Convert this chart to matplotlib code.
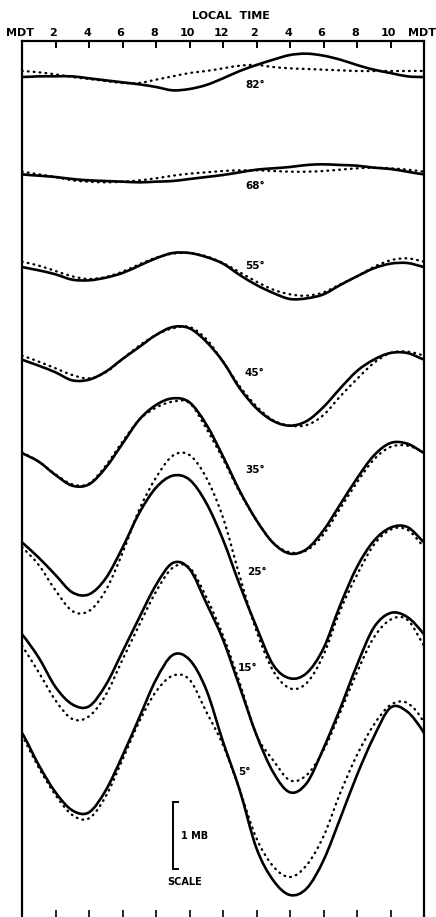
import numpy as np
import matplotlib
matplotlib.use("Agg")
import matplotlib.pyplot as plt
from matplotlib.path import Path
from matplotlib.patches import PathPatch
import matplotlib.transforms as mtransforms

# Local time, midnight to midnight (hours)
hours = list(range(25))
hour_ticks = list(range(0, 25, 2))
tick_labels = ["MDT", "2", "4", "6", "8", "10", "12", "2", "4", "6", "8", "10", "MDT"]

latitudes = [82, 68, 55, 45, 35, 25, 15, 5]

# Diurnal pressure variation (mb), solid and dotted curves for each latitude
solid_82 = [-0.09, -0.08, -0.08, -0.08, -0.11, -0.14, -0.17, -0.20, -0.24, -0.29, -0.27, -0.21, -0.11,
            0.00, 0.09, 0.17, 0.24, 0.26, 0.23, 0.17, 0.09, 0.02, -0.03, -0.08, -0.09]
dotted_82 = [0.00, -0.02, -0.05, -0.09, -0.12, -0.15, -0.18, -0.18, -0.13, -0.08, -0.03, 0.00, 0.04,
             0.08, 0.09, 0.06, 0.04, 0.03, 0.02, 0.01, 0.00, 0.00, 0.00, 0.00, 0.00]

solid_68 = [-0.05, -0.07, -0.09, -0.12, -0.14, -0.15, -0.16, -0.17, -0.16, -0.15, -0.12, -0.09, -0.06,
            -0.02, 0.02, 0.04, 0.06, 0.09, 0.10, 0.09, 0.08, 0.05, 0.03, -0.01, -0.05]
dotted_68 = [-0.01, -0.05, -0.09, -0.14, -0.16, -0.17, -0.16, -0.14, -0.11, -0.07, -0.04, -0.02, 0.00,
             0.01, 0.01, 0.00, -0.01, -0.01, 0.00, 0.02, 0.04, 0.05, 0.04, 0.02, -0.01]

solid_55 = [0.06, 0.01, -0.05, -0.13, -0.14, -0.10, -0.03, 0.08, 0.19, 0.27, 0.27, 0.21, 0.11,
            -0.06, -0.21, -0.33, -0.42, -0.41, -0.35, -0.21, -0.08, 0.04, 0.11, 0.12, 0.06]
dotted_55 = [0.14, 0.08, 0.00, -0.08, -0.12, -0.09, -0.01, 0.10, 0.20, 0.26, 0.27, 0.22, 0.12,
             -0.02, -0.16, -0.28, -0.35, -0.37, -0.32, -0.20, -0.08, 0.06, 0.16, 0.19, 0.14]

solid_45 = [0.17, 0.08, -0.02, -0.14, -0.13, -0.01, 0.18, 0.36, 0.54, 0.66, 0.64, 0.44, 0.14,
            -0.26, -0.56, -0.75, -0.82, -0.75, -0.54, -0.26, 0.00, 0.17, 0.27, 0.27, 0.17]
dotted_45 = [0.23, 0.14, 0.04, -0.06, -0.11, -0.02, 0.18, 0.38, 0.54, 0.64, 0.66, 0.48, 0.14,
             -0.23, -0.53, -0.74, -0.82, -0.81, -0.66, -0.38, -0.12, 0.12, 0.27, 0.29, 0.23]

solid_35 = [0.27, 0.14, -0.06, -0.22, -0.20, 0.05, 0.41, 0.77, 0.99, 1.09, 1.03, 0.70, 0.22,
            -0.30, -0.74, -1.08, -1.24, -1.17, -0.89, -0.50, -0.11, 0.23, 0.42, 0.41, 0.27]
dotted_35 = [0.28, 0.14, -0.05, -0.20, -0.19, 0.08, 0.44, 0.77, 0.95, 1.04, 1.02, 0.64, 0.18,
             -0.32, -0.74, -1.08, -1.22, -1.19, -0.95, -0.56, -0.17, 0.17, 0.36, 0.38, 0.28]

solid_25 = [0.43, 0.20, -0.06, -0.32, -0.35, -0.11, 0.35, 0.87, 1.25, 1.43, 1.37, 1.02, 0.47,
            -0.21, -0.84, -1.41, -1.61, -1.53, -1.16, -0.51, 0.06, 0.45, 0.65, 0.66, 0.43]
dotted_25 = [0.36, 0.09, -0.29, -0.60, -0.60, -0.29, 0.27, 0.92, 1.40, 1.73, 1.74, 1.40, 0.80,
             -0.08, -0.90, -1.50, -1.76, -1.68, -1.26, -0.59, -0.06, 0.39, 0.62, 0.62, 0.36]

solid_15 = [0.55, 0.20, -0.24, -0.50, -0.53, -0.21, 0.29, 0.80, 1.29, 1.62, 1.53, 1.02, 0.47,
            -0.24, -0.96, -1.52, -1.82, -1.68, -1.16, -0.56, 0.09, 0.65, 0.87, 0.81, 0.55]
dotted_15 = [0.38, -0.02, -0.44, -0.72, -0.68, -0.36, 0.17, 0.69, 1.19, 1.55, 1.55, 1.11, 0.53,
             -0.18, -0.96, -1.34, -1.64, -1.56, -1.19, -0.62, -0.02, 0.50, 0.77, 0.77, 0.38]

solid_5 = [0.57, 0.09, -0.32, -0.59, -0.62, -0.29, 0.23, 0.80, 1.37, 1.74, 1.67, 1.22, 0.44,
           -0.29, -1.16, -1.64, -1.86, -1.76, -1.34, -0.71, -0.06, 0.51, 0.95, 0.89, 0.57]
dotted_5 = [0.54, 0.05, -0.36, -0.66, -0.71, -0.38, 0.17, 0.74, 1.19, 1.43, 1.37, 0.89, 0.39,
            -0.29, -1.01, -1.43, -1.59, -1.41, -0.98, -0.33, 0.24, 0.69, 0.99, 1.02, 0.72]

solid_curves = [solid_82, solid_68, solid_55, solid_45, solid_35, solid_25, solid_15, solid_5]
dotted_curves = [dotted_82, dotted_68, dotted_55, dotted_45, dotted_35, dotted_25, dotted_15, dotted_5]

# Layout: vertical stacking of the curves (mb) and label placement (hour, mb)
offsets = [-0.45, -1.95, -3.45, -4.95, -6.45, -7.95, -9.45, -10.95]
label_pos = [(13.9, -0.66), (13.9, -2.18), (13.9, -3.38), (13.9, -4.98),
             (13.9, -6.44), (14.0, -7.97), (13.45, -9.41), (13.25, -10.97)]
y_bottom = -13.14


def smooth_path(x, y):
    """Catmull-Rom curve through hourly points (wrapping over the 24 h cycle)."""
    x = np.asarray(x, float)
    y = np.asarray(y, float)
    n = len(x)
    xe = np.concatenate([[x[-2] - 24], x, [x[1] + 24]])
    ye = np.concatenate([[y[-2]], y, [y[1]]])
    verts = [(x[0], y[0])]
    codes = [Path.MOVETO]
    for i in range(1, n):
        p0 = np.array([xe[i - 1], ye[i - 1]])
        p1 = np.array([xe[i], ye[i]])
        p2 = np.array([xe[i + 1], ye[i + 1]])
        p3 = np.array([xe[i + 2], ye[i + 2]])
        c1 = p1 + (p2 - p0) / 6
        c2 = p2 - (p3 - p1) / 6
        verts += [tuple(c1), tuple(c2), tuple(p2)]
        codes += [Path.CURVE4] * 3
    return Path(verts, codes)


plt.rcParams['font.family'] = ['DejaVu Sans']
fig = plt.figure(figsize=(4.36, 9.17), dpi=100)
ax = fig.add_axes([22 / 436, 0, 402 / 436, 876 / 917])
ax.set_xlim(0, 24)
ax.set_ylim(y_bottom, 0)

for lat, s, d, off, (lx, ly) in zip(latitudes, solid_curves, dotted_curves, offsets, label_pos):
    ax.add_patch(PathPatch(smooth_path(hours, np.array(s) + off), fill=False,
                           lw=1.9, edgecolor='black', capstyle='round', joinstyle='round'))
    ax.add_patch(PathPatch(smooth_path(hours, np.array(d) + off), fill=False,
                           lw=1.7, edgecolor='black', linestyle=(0, (0.3, 2.2)),
                           capstyle='round'))
    ax.text(lx, ly, f"{lat}°", ha='center', va='center', fontsize=7.5,
            fontweight='bold', color='black')

# Frame: top and sides only
for side in ['left', 'right', 'top']:
    ax.spines[side].set_linewidth(1.6)
ax.spines['bottom'].set_visible(False)
ax.set_xticks([])
ax.set_yticks([])

# Tick marks on the top edge and near the bottom edge
trans = mtransforms.blended_transform_factory(ax.transData, ax.transAxes)
inner = hour_ticks[1:-1]
ax.vlines(inner, 1 - 7 / 876, 1, transform=trans, color='black', lw=1.4)
ax.vlines(inner, 0, 7 / 876, transform=trans, color='black', lw=1.2)

# Hour labels above the frame
for h, lab in zip(hour_ticks, tick_labels):
    ax.text(h - 0.12, 1 + 8 / 876, lab, transform=trans, ha='center', va='center',
            fontsize=8, fontweight='bold', clip_on=False)
ax.text(12.45, 1 + 25 / 876, "LOCAL  TIME", transform=trans, ha='center', va='center',
        fontsize=8, fontweight='bold', clip_on=False)

# 1 mb scale bar
sx = 9.03
top, bot = -11.42, -12.42
ax.plot([sx + 0.28, sx, sx, sx + 0.28], [top, top, bot, bot], color='black', lw=1.4,
        solid_joinstyle='miter')
ax.text(sx + 0.45, (top + bot) / 2, "1 MB", ha='left', va='center', fontsize=7,
        fontweight='bold')
ax.text(sx + 0.7, bot - 0.2, "SCALE", ha='center', va='center', fontsize=7,
        fontweight='bold')

fig.savefig("out.png", dpi=100)
